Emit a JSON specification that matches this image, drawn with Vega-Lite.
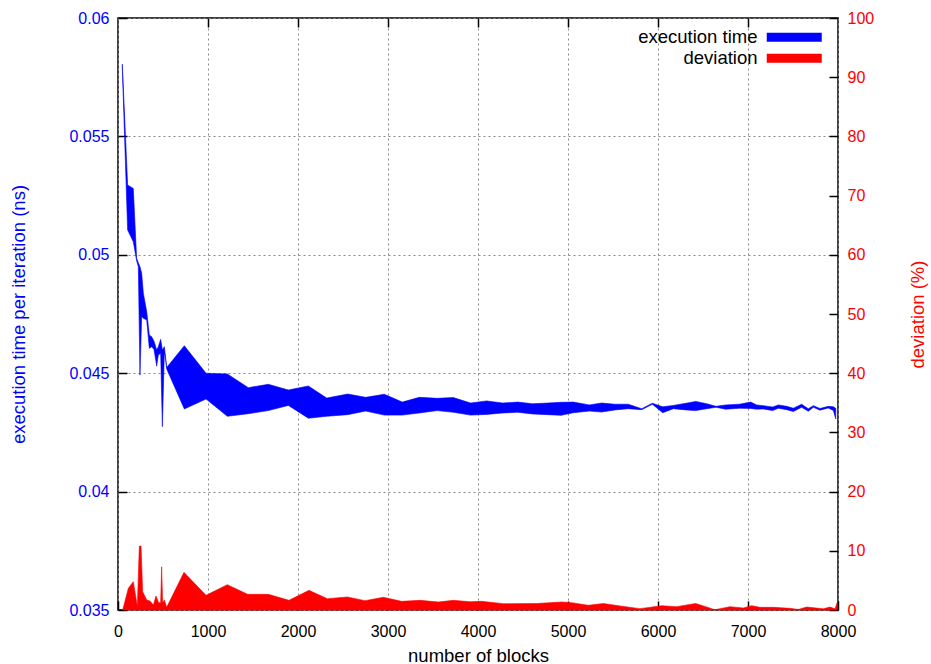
{
  "$schema": "https://vega.github.io/schema/vega-lite/v6.json",
  "width": 720,
  "height": 592,
  "autosize": {"type": "none"},
  "padding": {"left": 118, "top": 18, "right": 93, "bottom": 54},
  "background": "white",
  "config": {
    "font": "Liberation Sans",
    "view": {"stroke": "black", "strokeWidth": 1.5},
    "axis": {"domain": false, "labelFontSize": 16, "titleFontSize": 18.5, "titleFontWeight": "normal", "tickColor": "black", "tickSize": -9, "tickWidth": 1.5, "gridColor": "#888888", "gridDash": [2, 3], "gridWidth": 1},
    "legend": {"orient": "none", "legendX": 663, "legendY": 6, "padding": 4, "rowPadding": 2, "labelFontSize": 18.5, "labelColor": "black", "labelAlign": "right", "labelOffset": -46, "symbolType": "M-5,-0.8L5,-0.8L5,0.8L-5,0.8Z", "symbolSize": 121, "symbolStrokeWidth": 0, "fillColor": "white"}
  },
  "datasets": {
    "timing": [
      {"blocks": 48, "time_min": 0.05790, "time_max": 0.05805, "series": "execution time"},
      {"blocks": 107, "time_min": 0.05105, "time_max": 0.05295, "series": "execution time"},
      {"blocks": 170, "time_min": 0.05055, "time_max": 0.05280, "series": "execution time"},
      {"blocks": 207, "time_min": 0.04975, "time_max": 0.04985, "series": "execution time"},
      {"blocks": 226, "time_min": 0.04950, "time_max": 0.04966, "series": "execution time"},
      {"blocks": 244, "time_min": 0.04492, "time_max": 0.04950, "series": "execution time"},
      {"blocks": 263, "time_min": 0.04739, "time_max": 0.04922, "series": "execution time"},
      {"blocks": 282, "time_min": 0.04732, "time_max": 0.04837, "series": "execution time"},
      {"blocks": 319, "time_min": 0.04725, "time_max": 0.04760, "series": "execution time"},
      {"blocks": 348, "time_min": 0.04605, "time_max": 0.04661, "series": "execution time"},
      {"blocks": 374, "time_min": 0.04612, "time_max": 0.04654, "series": "execution time"},
      {"blocks": 400, "time_min": 0.04600, "time_max": 0.04635, "series": "execution time"},
      {"blocks": 430, "time_min": 0.04530, "time_max": 0.04598, "series": "execution time"},
      {"blocks": 448, "time_min": 0.04577, "time_max": 0.04612, "series": "execution time"},
      {"blocks": 474, "time_min": 0.04584, "time_max": 0.04643, "series": "execution time"},
      {"blocks": 493, "time_min": 0.04274, "time_max": 0.04598, "series": "execution time"},
      {"blocks": 515, "time_min": 0.04591, "time_max": 0.04612, "series": "execution time"},
      {"blocks": 530, "time_min": 0.04555, "time_max": 0.04562, "series": "execution time"},
      {"blocks": 541, "time_min": 0.04518, "time_max": 0.04524, "series": "execution time"},
      {"blocks": 737, "time_min": 0.04349, "time_max": 0.04616, "series": "execution time"},
      {"blocks": 978, "time_min": 0.04391, "time_max": 0.04500, "series": "execution time"},
      {"blocks": 1215, "time_min": 0.04318, "time_max": 0.04497, "series": "execution time"},
      {"blocks": 1448, "time_min": 0.04329, "time_max": 0.04439, "series": "execution time"},
      {"blocks": 1670, "time_min": 0.04342, "time_max": 0.04453, "series": "execution time"},
      {"blocks": 1893, "time_min": 0.04364, "time_max": 0.04429, "series": "execution time"},
      {"blocks": 2115, "time_min": 0.04310, "time_max": 0.04446, "series": "execution time"},
      {"blocks": 2319, "time_min": 0.04318, "time_max": 0.04395, "series": "execution time"},
      {"blocks": 2552, "time_min": 0.04325, "time_max": 0.04412, "series": "execution time"},
      {"blocks": 2752, "time_min": 0.04340, "time_max": 0.04398, "series": "execution time"},
      {"blocks": 2959, "time_min": 0.04323, "time_max": 0.04411, "series": "execution time"},
      {"blocks": 3159, "time_min": 0.04323, "time_max": 0.04378, "series": "execution time"},
      {"blocks": 3348, "time_min": 0.04332, "time_max": 0.04398, "series": "execution time"},
      {"blocks": 3548, "time_min": 0.04342, "time_max": 0.04394, "series": "execution time"},
      {"blocks": 3726, "time_min": 0.04335, "time_max": 0.04397, "series": "execution time"},
      {"blocks": 3918, "time_min": 0.04323, "time_max": 0.04374, "series": "execution time"},
      {"blocks": 4096, "time_min": 0.04326, "time_max": 0.04383, "series": "execution time"},
      {"blocks": 4274, "time_min": 0.04332, "time_max": 0.04374, "series": "execution time"},
      {"blocks": 4441, "time_min": 0.04335, "time_max": 0.04378, "series": "execution time"},
      {"blocks": 4604, "time_min": 0.04328, "time_max": 0.04371, "series": "execution time"},
      {"blocks": 4774, "time_min": 0.04325, "time_max": 0.04374, "series": "execution time"},
      {"blocks": 4922, "time_min": 0.04322, "time_max": 0.04377, "series": "execution time"},
      {"blocks": 5059, "time_min": 0.04333, "time_max": 0.04378, "series": "execution time"},
      {"blocks": 5237, "time_min": 0.04340, "time_max": 0.04366, "series": "execution time"},
      {"blocks": 5374, "time_min": 0.04336, "time_max": 0.04374, "series": "execution time"},
      {"blocks": 5522, "time_min": 0.04345, "time_max": 0.04369, "series": "execution time"},
      {"blocks": 5670, "time_min": 0.04350, "time_max": 0.04369, "series": "execution time"},
      {"blocks": 5819, "time_min": 0.04346, "time_max": 0.04350, "series": "execution time"},
      {"blocks": 5937, "time_min": 0.04369, "time_max": 0.04373, "series": "execution time"},
      {"blocks": 6052, "time_min": 0.04333, "time_max": 0.04358, "series": "execution time"},
      {"blocks": 6170, "time_min": 0.04350, "time_max": 0.04364, "series": "execution time"},
      {"blocks": 6311, "time_min": 0.04345, "time_max": 0.04373, "series": "execution time"},
      {"blocks": 6419, "time_min": 0.04342, "time_max": 0.04381, "series": "execution time"},
      {"blocks": 6541, "time_min": 0.04350, "time_max": 0.04371, "series": "execution time"},
      {"blocks": 6644, "time_min": 0.04356, "time_max": 0.04360, "series": "execution time"},
      {"blocks": 6752, "time_min": 0.04348, "time_max": 0.04366, "series": "execution time"},
      {"blocks": 6904, "time_min": 0.04352, "time_max": 0.04369, "series": "execution time"},
      {"blocks": 7030, "time_min": 0.04351, "time_max": 0.04378, "series": "execution time"},
      {"blocks": 7096, "time_min": 0.04348, "time_max": 0.04366, "series": "execution time"},
      {"blocks": 7170, "time_min": 0.04349, "time_max": 0.04363, "series": "execution time"},
      {"blocks": 7274, "time_min": 0.04342, "time_max": 0.04357, "series": "execution time"},
      {"blocks": 7337, "time_min": 0.04352, "time_max": 0.04366, "series": "execution time"},
      {"blocks": 7430, "time_min": 0.04346, "time_max": 0.04360, "series": "execution time"},
      {"blocks": 7504, "time_min": 0.04338, "time_max": 0.04352, "series": "execution time"},
      {"blocks": 7596, "time_min": 0.04356, "time_max": 0.04369, "series": "execution time"},
      {"blocks": 7670, "time_min": 0.04339, "time_max": 0.04350, "series": "execution time"},
      {"blocks": 7726, "time_min": 0.04356, "time_max": 0.04363, "series": "execution time"},
      {"blocks": 7800, "time_min": 0.04344, "time_max": 0.04351, "series": "execution time"},
      {"blocks": 7892, "time_min": 0.04353, "time_max": 0.04360, "series": "execution time"},
      {"blocks": 7948, "time_min": 0.04343, "time_max": 0.04358, "series": "execution time"},
      {"blocks": 7975, "time_min": 0.04307, "time_max": 0.04352, "series": "execution time"}
    ],
    "dev": [
      {"blocks": 52, "deviation": 0, "series": "deviation"},
      {"blocks": 115, "deviation": 3.66, "series": "deviation"},
      {"blocks": 170, "deviation": 4.79, "series": "deviation"},
      {"blocks": 215, "deviation": 0.6, "series": "deviation"},
      {"blocks": 237, "deviation": 10.8, "series": "deviation"},
      {"blocks": 256, "deviation": 10.8, "series": "deviation"},
      {"blocks": 274, "deviation": 3.1, "series": "deviation"},
      {"blocks": 319, "deviation": 1.7, "series": "deviation"},
      {"blocks": 356, "deviation": 1.5, "series": "deviation"},
      {"blocks": 393, "deviation": 0.84, "series": "deviation"},
      {"blocks": 422, "deviation": 2.36, "series": "deviation"},
      {"blocks": 452, "deviation": 1.24, "series": "deviation"},
      {"blocks": 474, "deviation": 1.24, "series": "deviation"},
      {"blocks": 485, "deviation": 7.3, "series": "deviation"},
      {"blocks": 496, "deviation": 1.2, "series": "deviation"},
      {"blocks": 515, "deviation": 1.7, "series": "deviation"},
      {"blocks": 541, "deviation": 0.45, "series": "deviation"},
      {"blocks": 733, "deviation": 6.36, "series": "deviation"},
      {"blocks": 978, "deviation": 2.48, "series": "deviation"},
      {"blocks": 1215, "deviation": 4.28, "series": "deviation"},
      {"blocks": 1441, "deviation": 2.64, "series": "deviation"},
      {"blocks": 1670, "deviation": 2.64, "series": "deviation"},
      {"blocks": 1900, "deviation": 1.63, "series": "deviation"},
      {"blocks": 2122, "deviation": 3.32, "series": "deviation"},
      {"blocks": 2326, "deviation": 1.91, "series": "deviation"},
      {"blocks": 2548, "deviation": 2.2, "series": "deviation"},
      {"blocks": 2744, "deviation": 1.58, "series": "deviation"},
      {"blocks": 2948, "deviation": 2.14, "series": "deviation"},
      {"blocks": 3152, "deviation": 1.46, "series": "deviation"},
      {"blocks": 3356, "deviation": 1.63, "series": "deviation"},
      {"blocks": 3559, "deviation": 1.35, "series": "deviation"},
      {"blocks": 3726, "deviation": 1.63, "series": "deviation"},
      {"blocks": 3911, "deviation": 1.4, "series": "deviation"},
      {"blocks": 4041, "deviation": 1.46, "series": "deviation"},
      {"blocks": 4281, "deviation": 1.07, "series": "deviation"},
      {"blocks": 4652, "deviation": 1.1, "series": "deviation"},
      {"blocks": 4930, "deviation": 1.35, "series": "deviation"},
      {"blocks": 5041, "deviation": 1.24, "series": "deviation"},
      {"blocks": 5226, "deviation": 0.79, "series": "deviation"},
      {"blocks": 5393, "deviation": 1.1, "series": "deviation"},
      {"blocks": 5578, "deviation": 0.68, "series": "deviation"},
      {"blocks": 5800, "deviation": 0.23, "series": "deviation"},
      {"blocks": 6041, "deviation": 0.73, "series": "deviation"},
      {"blocks": 6207, "deviation": 0.56, "series": "deviation"},
      {"blocks": 6419, "deviation": 1.1, "series": "deviation"},
      {"blocks": 6633, "deviation": 0.05, "series": "deviation"},
      {"blocks": 6800, "deviation": 0.56, "series": "deviation"},
      {"blocks": 6948, "deviation": 0.34, "series": "deviation"},
      {"blocks": 7041, "deviation": 0.73, "series": "deviation"},
      {"blocks": 7133, "deviation": 0.45, "series": "deviation"},
      {"blocks": 7281, "deviation": 0.45, "series": "deviation"},
      {"blocks": 7467, "deviation": 0.28, "series": "deviation"},
      {"blocks": 7559, "deviation": 0.1, "series": "deviation"},
      {"blocks": 7652, "deviation": 0.5, "series": "deviation"},
      {"blocks": 7837, "deviation": 0.2, "series": "deviation"},
      {"blocks": 7911, "deviation": 0.5, "series": "deviation"},
      {"blocks": 7967, "deviation": 0.2, "series": "deviation"},
      {"blocks": 7990, "deviation": 1.2, "series": "deviation"}
    ]
  },
  "layer": [
    {
      "data": {"name": "timing"},
      "mark": {"type": "area", "strokeWidth": 0.6, "interpolate": "linear"},
      "encoding": {
        "x": {"field": "blocks", "type": "quantitative", "scale": {"domain": [0, 8000], "nice": false},
              "axis": {"orient": "bottom", "values": [0, 1000, 2000, 3000, 4000, 5000, 6000, 7000, 8000], "format": "d", "title": "number of blocks", "labelColor": "black", "titleColor": "black", "labelPadding": 22, "titlePadding": 7, "grid": true, "labelFlush": false}},
        "y": {"field": "time_max", "type": "quantitative", "scale": {"domain": [0.035, 0.06], "nice": false, "zero": false},
              "axis": {"orient": "left", "values": [0.035, 0.04, 0.045, 0.05, 0.055, 0.06], "format": "~g", "title": "execution time per iteration (ns)", "labelColor": "#0000ff", "titleColor": "#0000ff", "labelPadding": 18, "titlePadding": 40, "grid": true}},
        "y2": {"field": "time_min"},
        "fill": {"field": "series", "type": "nominal", "scale": {"domain": ["execution time", "deviation"], "range": ["#0000ff", "#ff0000"]}, "legend": {"title": null}},
        "stroke": {"field": "series", "type": "nominal", "scale": {"domain": ["execution time", "deviation"], "range": ["#0000ff", "#ff0000"]}, "legend": null}
      }
    },
    {
      "data": {"name": "dev"},
      "mark": {"type": "area", "strokeWidth": 0.6, "interpolate": "linear"},
      "encoding": {
        "x": {"field": "blocks", "type": "quantitative", "scale": {"domain": [0, 8000], "nice": false},
              "axis": {"orient": "top", "values": [1000, 2000, 3000, 4000, 5000, 6000, 7000], "labels": false, "title": null, "grid": false}},
        "y": {"field": "deviation", "type": "quantitative", "scale": {"domain": [0, 100], "nice": false},
              "axis": {"orient": "right", "values": [0, 10, 20, 30, 40, 50, 60, 70, 80, 90, 100], "title": "deviation (%)", "titleAngle": 270, "labelColor": "#ff0000", "titleColor": "#ff0000", "labelPadding": 18, "titlePadding": 54, "grid": false}},
        "fill": {"field": "series", "type": "nominal", "scale": {"domain": ["execution time", "deviation"], "range": ["#0000ff", "#ff0000"]}, "legend": {"title": null}},
        "stroke": {"field": "series", "type": "nominal", "scale": {"domain": ["execution time", "deviation"], "range": ["#0000ff", "#ff0000"]}, "legend": null}
      }
    }
  ],
  "resolve": {"scale": {"y": "independent", "x": "independent"}}
}
